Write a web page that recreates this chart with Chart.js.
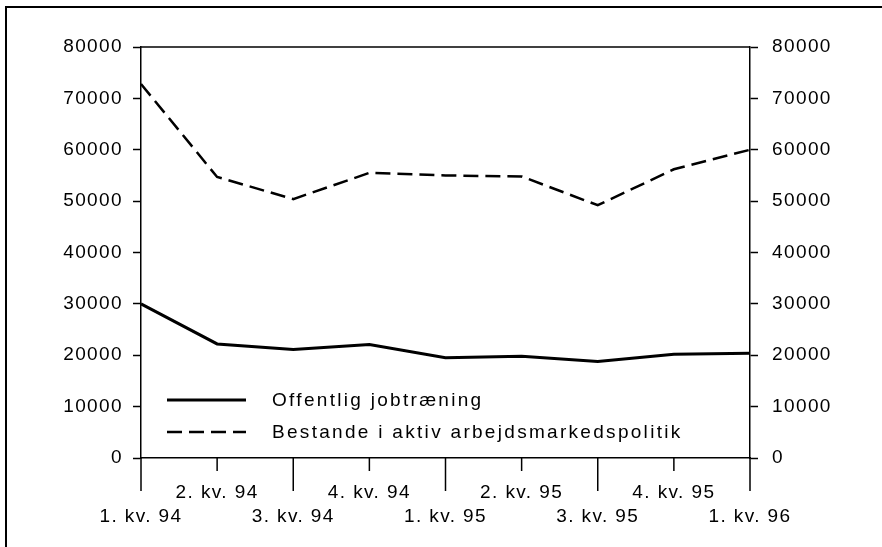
<!DOCTYPE html>
<html>
<head>
<meta charset="utf-8">
<script src="https://cdn.jsdelivr.net/npm/chart.js@4"></script>
<style>
  html, body { margin: 0; padding: 0; background: #fff; }
  #wrap { width: 882px; height: 547px; position: relative; }
</style>
</head>
<body>
<div id="wrap"><canvas id="chart" width="882" height="547"></canvas></div>
<script>
'use strict';

// data
const quarters = ['1. kv. 94', '2. kv. 94', '3. kv. 94', '4. kv. 94', '1. kv. 95',
                  '2. kv. 95', '3. kv. 95', '4. kv. 95', '1. kv. 96'];
const jobtraening = [30000, 22200, 21100, 22100, 19500, 19800, 18800, 20200, 20400];
const bestande = [72800, 54700, 50400, 55500, 55000, 54800, 49200, 56200, 60000];
const yTicks = [0, 10000, 20000, 30000, 40000, 50000, 60000, 70000, 80000];

const FONT = { family: '"Liberation Sans", Arial, sans-serif', size: 19 };

// outer frame, x ticks, legend inside the plot
const decor = {
  id: 'decor',
  beforeDraw(chart) {
    const ctx = chart.ctx;
    ctx.letterSpacing = '1.4px'; // the scan has wide letter spacing
    ctx.save();
    ctx.strokeStyle = '#000';
    ctx.lineWidth = 2;
    ctx.beginPath();
    ctx.moveTo(6, 547);
    ctx.lineTo(6, 7);
    ctx.lineTo(882, 7);
    ctx.stroke();
    ctx.restore();
  },
  afterDraw(chart) {
    const ctx = chart.ctx;
    const area = chart.chartArea;
    const x = chart.scales.x;
    ctx.save();
    ctx.strokeStyle = '#000';
    ctx.lineWidth = 1.5;
    // top line of the plot
    ctx.beginPath();
    ctx.moveTo(area.left, area.top);
    ctx.lineTo(area.right, area.top);
    ctx.stroke();
    // x ticks: long at odd quarters, short between
    quarters.forEach((q, i) => {
      const px = x.getPixelForTick(i);
      ctx.beginPath();
      ctx.moveTo(px, area.bottom);
      ctx.lineTo(px, area.bottom + (i % 2 === 0 ? 33 : 13));
      ctx.stroke();
    });
    // legend
    ctx.font = FONT.size + 'px ' + FONT.family;
    ctx.letterSpacing = '2.3px';
    ctx.fillStyle = '#000';
    ctx.textBaseline = 'middle';
    chart.data.datasets.forEach((ds, i) => {
      const y = 400 + i * 32;
      ctx.save();
      ctx.lineWidth = ds.borderWidth;
      ctx.setLineDash(ds.borderDash || []);
      ctx.beginPath();
      ctx.moveTo(167, y);
      ctx.lineTo(246, y);
      ctx.stroke();
      ctx.restore();
      ctx.fillText(ds.label, 272, y + 1);
    });
    ctx.restore();
  }
};

new Chart(document.getElementById('chart'), {
  type: 'line',
  data: {
    labels: quarters,
    datasets: [
      {
        label: 'Offentlig jobtræning',
        data: jobtraening,
        borderColor: '#000',
        borderWidth: 3,
        pointRadius: 0,
        tension: 0,
        yAxisID: 'y'
      },
      {
        label: 'Bestande i aktiv arbejdsmarkedspolitik',
        data: bestande,
        borderColor: '#000',
        borderWidth: 2.5,
        borderDash: [15, 7],
        pointRadius: 0,
        tension: 0,
        yAxisID: 'y'
      }
    ]
  },
  options: {
    responsive: false,
    animation: false,
    layout: { padding: { top: 47, bottom: 0, left: 0, right: 0 } },
    plugins: {
      legend: { display: false },
      tooltip: { enabled: false }
    },
    scales: {
      x: {
        offset: false,
        grid: { display: false },
        border: { display: true, color: '#000', width: 1.5 },
        ticks: {
          color: '#000',
          font: { ...FONT, lineHeight: 1.3 },
          padding: 14,
          maxRotation: 0,
          autoSkip: false,
          callback: (v, i) => (i % 2 === 0 ? ['', quarters[i]] : [quarters[i]])
        },
        afterFit: (s) => { s.height = 89; }
      },
      y: {
        position: 'left',
        min: 0,
        max: 80000,
        afterBuildTicks: (s) => { s.ticks = yTicks.map(v => ({ value: v })); },
        grid: { drawOnChartArea: false, tickLength: 8, tickColor: '#000', tickWidth: 1.5 },
        border: { display: true, color: '#000', width: 1.5 },
        ticks: { color: '#000', font: FONT, padding: 10, callback: (v) => String(v) },
        afterFit: (s) => { s.width = 141; }
      },
      y2: {
        position: 'right',
        min: 0,
        max: 80000,
        afterBuildTicks: (s) => { s.ticks = yTicks.map(v => ({ value: v })); },
        grid: { drawOnChartArea: false, tickLength: 8, tickColor: '#000', tickWidth: 1.5 },
        border: { display: true, color: '#000', width: 1.5 },
        ticks: { color: '#000', font: FONT, padding: 14, callback: (v) => String(v) },
        afterFit: (s) => { s.width = 132; }
      }
    }
  },
  plugins: [decor]
});
</script>
</body>
</html>
